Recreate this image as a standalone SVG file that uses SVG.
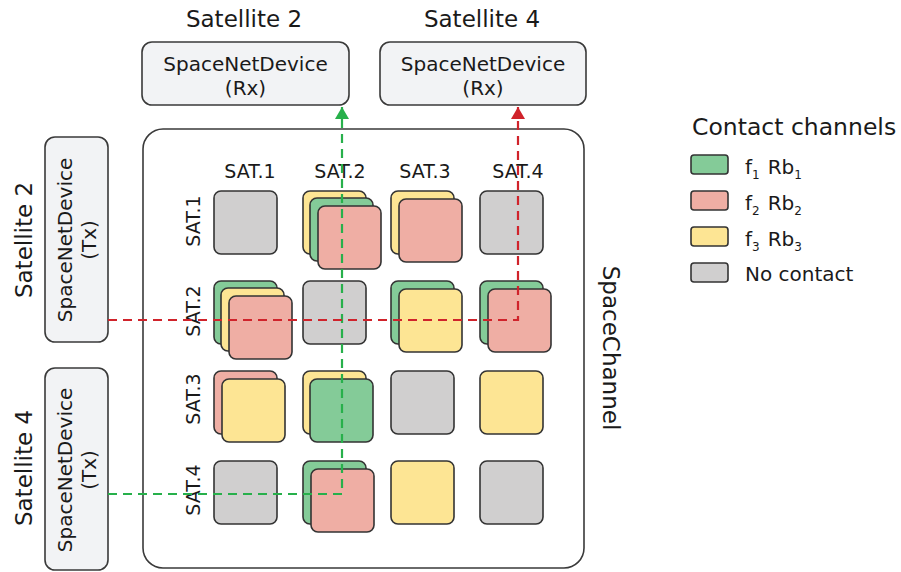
<svg xmlns="http://www.w3.org/2000/svg" width="901" height="572" viewBox="0 0 901 572">
<style>
text{font-family:"DejaVu Sans","Liberation Sans",sans-serif;fill:#1a1a1a}
.dev{fill:#f2f3f5;stroke:#3a3a3a;stroke-width:1.6}
.sq{stroke:#333;stroke-width:1.6}
.g{fill:#84cb98}.r{fill:#efaea4}.y{fill:#fde594}.n{fill:#d0cfcf}
.t20{font-size:20px}.t23{font-size:23px}.t19{font-size:19px}
.dg{fill:none;stroke:#27b04b;stroke-width:2.2;stroke-dasharray:9 6}
.dr{fill:none;stroke:#d0232b;stroke-width:2.2;stroke-dasharray:9 6}
</style>
<defs>
<marker id="ag" markerWidth="12" markerHeight="14" refX="12" refY="7" orient="auto" markerUnits="userSpaceOnUse" viewBox="0 0 12 14"><path d="M0,0 L12,7 L0,14 Z" fill="#27b04b"/></marker>
<marker id="ar" markerWidth="12" markerHeight="14" refX="12" refY="7" orient="auto" markerUnits="userSpaceOnUse" viewBox="0 0 12 14"><path d="M0,0 L12,7 L0,14 Z" fill="#d0232b"/></marker>
</defs>
<rect width="901" height="572" fill="#fff"/>

<g id="rx-sat2">
<text class="t23" x="244" y="27" text-anchor="middle">Satellite 2</text>
<rect class="dev" x="142" y="42" width="207" height="63" rx="10"/>
<text class="t20" x="245.5" y="71" text-anchor="middle">SpaceNetDevice</text>
<text class="t20" x="245.5" y="95" text-anchor="middle">(Rx)</text>
</g>
<g id="rx-sat4">
<text class="t23" x="482" y="27" text-anchor="middle">Satellite 4</text>
<rect class="dev" x="380" y="42" width="206" height="63" rx="10"/>
<text class="t20" x="483" y="71" text-anchor="middle">SpaceNetDevice</text>
<text class="t20" x="483" y="95" text-anchor="middle">(Rx)</text>
</g>
<g id="tx-sat2">
<text class="t23" transform="translate(32,240) rotate(-90)" text-anchor="middle">Satellite 2</text>
<rect class="dev" x="45" y="137" width="63" height="205" rx="10"/>
<text class="t20" transform="translate(72,240) rotate(-90)" text-anchor="middle">SpaceNetDevice</text>
<text class="t20" transform="translate(96,240) rotate(-90)" text-anchor="middle">(Tx)</text>
</g>
<g id="tx-sat4">
<text class="t23" transform="translate(32,468) rotate(-90)" text-anchor="middle">Satellite 4</text>
<rect class="dev" x="45" y="368" width="63" height="202" rx="10"/>
<text class="t20" transform="translate(72,470) rotate(-90)" text-anchor="middle">SpaceNetDevice</text>
<text class="t20" transform="translate(96,470) rotate(-90)" text-anchor="middle">(Tx)</text>
</g>

<g id="spacechannel">
<rect x="143" y="129" width="441" height="439" rx="20" fill="#fff" stroke="#3a3a3a" stroke-width="1.6"/>
<text class="t23" transform="translate(603,348) rotate(90)" text-anchor="middle">SpaceChannel</text>
<g class="t19" text-anchor="middle">
<text x="250" y="178">SAT.1</text>
<text x="340" y="178">SAT.2</text>
<text x="425" y="178">SAT.3</text>
<text x="518" y="178">SAT.4</text>
<text transform="translate(200,221) rotate(-90)">SAT.1</text>
<text transform="translate(200,311) rotate(-90)">SAT.2</text>
<text transform="translate(200,399) rotate(-90)">SAT.3</text>
<text transform="translate(200,490) rotate(-90)">SAT.4</text>
</g>
</g>

<g id="cells">
<!-- row 1 -->
<rect class="sq n" x="214" y="191" width="63" height="63" rx="7"/>
<rect class="sq y" x="303" y="191" width="63" height="63" rx="7"/>
<rect class="sq g" x="310" y="198" width="63" height="63" rx="7"/>
<rect class="sq r" x="318" y="206" width="63" height="63" rx="7"/>
<rect class="sq y" x="391" y="191" width="63" height="63" rx="7"/>
<rect class="sq r" x="399" y="199" width="63" height="63" rx="7"/>
<rect class="sq n" x="480" y="191" width="63" height="63" rx="7"/>
<!-- row 2 -->
<rect class="sq g" x="214" y="281" width="63" height="63" rx="7"/>
<rect class="sq y" x="221" y="288" width="63" height="63" rx="7"/>
<rect class="sq r" x="229" y="296" width="63" height="63" rx="7"/>
<rect class="sq n" x="303" y="281" width="63" height="63" rx="7"/>
<rect class="sq g" x="391" y="281" width="63" height="63" rx="7"/>
<rect class="sq y" x="399" y="289" width="63" height="63" rx="7"/>
<rect class="sq g" x="480" y="281" width="63" height="63" rx="7"/>
<rect class="sq r" x="488" y="289" width="63" height="63" rx="7"/>
<!-- row 3 -->
<rect class="sq r" x="214" y="371" width="63" height="63" rx="7"/>
<rect class="sq y" x="222" y="379" width="63" height="63" rx="7"/>
<rect class="sq y" x="303" y="371" width="63" height="63" rx="7"/>
<rect class="sq g" x="310" y="379" width="63" height="63" rx="7"/>
<rect class="sq n" x="391" y="371" width="63" height="63" rx="7"/>
<rect class="sq y" x="480" y="371" width="63" height="63" rx="7"/>
<!-- row 4 -->
<rect class="sq n" x="214" y="461" width="63" height="63" rx="7"/>
<rect class="sq g" x="303" y="461" width="63" height="63" rx="7"/>
<rect class="sq r" x="311" y="469" width="63" height="63" rx="7"/>
<rect class="sq y" x="391" y="461" width="63" height="63" rx="7"/>
<rect class="sq n" x="480" y="461" width="63" height="63" rx="7"/>
</g>

<g id="connectors">
<path class="dg" d="M108,494 H342 V107" marker-end="url(#ag)"/>
<path class="dr" d="M108,320 H518 V107" marker-end="url(#ar)"/>
</g>

<g id="legend">
<text class="t23" x="692" y="135" style="font-size:23.5px">Contact channels</text>
<rect class="sq g" x="691" y="155" width="37" height="19" rx="3"/>
<rect class="sq r" x="691" y="191" width="37" height="19" rx="3"/>
<rect class="sq y" x="691" y="227" width="37" height="19" rx="3"/>
<rect class="sq n" x="691" y="263" width="37" height="19" rx="3"/>
<text class="t20" x="745" y="174">f<tspan font-size="12" dy="5">1</tspan><tspan dx="8" dy="-5">Rb</tspan><tspan font-size="12" dy="5">1</tspan></text>
<text class="t20" x="745" y="210">f<tspan font-size="12" dy="5">2</tspan><tspan dx="8" dy="-5">Rb</tspan><tspan font-size="12" dy="5">2</tspan></text>
<text class="t20" x="745" y="246">f<tspan font-size="12" dy="5">3</tspan><tspan dx="8" dy="-5">Rb</tspan><tspan font-size="12" dy="5">3</tspan></text>
<text class="t20" x="745" y="281">No contact</text>
</g>
</svg>
